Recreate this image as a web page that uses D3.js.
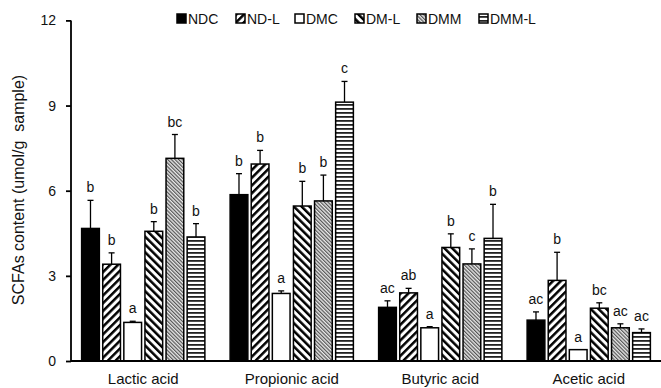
<!DOCTYPE html>
<html><head><meta charset="utf-8">
<script src="https://cdn.jsdelivr.net/npm/d3@7"></script>
<style>body{margin:0;background:#fff;}svg{display:block;font-family:Arial,"Liberation Sans",sans-serif;}</style>
</head><body><svg id="c" width="661" height="388"></svg>
<script>
const categories = ["Lactic acid","Propionic acid","Butyric acid","Acetic acid"];
const series = ["NDC","ND-L","DMC","DM-L","DMM","DMM-L"];
const NDC   = [4.67, 5.86, 1.89, 1.44];
const NDL   = [3.41, 6.94, 2.40, 2.84];
const DMC   = [1.36, 2.38, 1.17, 0.40];
const DML   = [4.57, 5.46, 4.00, 1.86];
const DMM   = [7.14, 5.64, 3.42, 1.17];
const DMML  = [4.37, 9.12, 4.32, 1.00];
const errNDC  = [0.99, 0.74, 0.23, 0.29];
const errNDL  = [0.40, 0.48, 0.16, 0.99];
const errDMC  = [0.04, 0.09, 0.04, 0.0];
const errDML  = [0.34, 0.87, 0.48, 0.19];
const errDMM  = [0.84, 0.91, 0.53, 0.14];
const errDMML = [0.47, 0.73, 1.20, 0.13];
const lblNDC  = ["b","b","ac","ac"];
const lblNDL  = ["b","b","ab","b"];
const lblDMC  = ["a","a","a","a"];
const lblDML  = ["b","b","b","bc"];
const lblDMM  = ["bc","b","c","ac"];
const lblDMML = ["b","c","b","ac"];
const yTicks = [0,3,6,9,12];

const values = [NDC,NDL,DMC,DML,DMM,DMML];
const errs = [errNDC,errNDL,errDMC,errDML,errDMM,errDMML];
const lbls = [lblNDC,lblNDL,lblDMC,lblDML,lblDMM,lblDMML];
const fills = ["#000","url(#pNDL)","#fff","url(#pDML)","url(#pDMM)","url(#pDMML)"];

const svg = d3.select("#c");
const defs = svg.append("defs");
function stripes(id, angle, w, sw, col, bg){
  const p = defs.append("pattern").attr("id",id).attr("patternUnits","userSpaceOnUse")
    .attr("width",w).attr("height",w).attr("patternTransform","rotate("+angle+")");
  p.append("rect").attr("width",w).attr("height",w).attr("fill",bg);
  p.append("rect").attr("x",0).attr("y",0).attr("width",sw).attr("height",w).attr("fill",col);
}
stripes("pNDL", 45, 5.5, 2.5, "#000", "#fff");
stripes("pDML", -45, 5.5, 2.5, "#000", "#fff");
stripes("pDMM", -45, 2.6, 1.2, "#555", "#e8e8e8");
stripes("pDMML", 90, 4, 1.8, "#222", "#fff");

const mLeft = 71, mRight = 665, mTop = 20.4, mBottom = 361;
const y = d3.scaleLinear().domain([0,12]).range([mBottom, mTop]);
const x0 = d3.scaleBand().domain(categories).range([mLeft, mRight]).paddingInner(0).paddingOuter(0);
const x1 = d3.scaleBand().domain(series).range([-65, 65]).padding(0.16);

const g = svg.append("g");
series.forEach((s, si) => {
  categories.forEach((c, ci) => {
    const cx = x0(c) + x0.bandwidth()/2 - 2;
    const bx = cx + x1(s);
    const v = values[si][ci], e = errs[si][ci];
    const mid = bx + x1.bandwidth()/2;
    if (e > 0.02) {
      g.append("line").attr("x1",mid).attr("x2",mid).attr("y1",y(v)).attr("y2",y(v+e)).attr("stroke","#000").attr("stroke-width",1.3);
      g.append("line").attr("x1",mid-3).attr("x2",mid+3).attr("y1",y(v+e)).attr("y2",y(v+e)).attr("stroke","#000").attr("stroke-width",1.3);
    }
    g.append("rect").attr("x",bx).attr("y",y(v)).attr("width",x1.bandwidth()).attr("height",y(0)-y(v))
      .attr("fill",fills[si]).attr("stroke","#000").attr("stroke-width",1.5);
    g.append("text").attr("x",mid).attr("y",y(v+e)-8).attr("text-anchor","middle")
      .attr("font-size",14).attr("fill","#111").text(lbls[si][ci]);
  });
});

// axes
const ya = svg.append("g").attr("transform","translate("+mLeft+",0)")
  .call(d3.axisLeft(y).tickValues(yTicks).tickSize(5).tickPadding(10));
ya.select(".domain").attr("stroke","#000").attr("stroke-width",1.8).attr("d","M0,"+mTop+"V"+mBottom);
ya.selectAll(".tick line").attr("stroke","#000").attr("stroke-width",1.8);
ya.selectAll(".tick text").attr("font-size",14).attr("fill","#111").attr("font-family","Arial,'Liberation Sans',sans-serif");

const xa = svg.append("g").attr("transform","translate(0,"+mBottom+")")
  .call(d3.axisBottom(x0).tickSize(0).tickPadding(12));
xa.select(".domain").attr("stroke","#000").attr("stroke-width",1.8).attr("d","M"+mLeft+",0H661");
xa.selectAll(".tick").attr("transform", d => "translate(" + (x0(d)+x0.bandwidth()/2 - 2) + ",0)");
xa.selectAll(".tick text").attr("font-size",15).attr("fill","#111").attr("font-family","Arial,'Liberation Sans',sans-serif");

svg.append("text").attr("transform","translate(24,"+190+") rotate(-90)").attr("text-anchor","middle")
  .style("white-space","pre").attr("xml:space","preserve")
  .attr("font-size",16).attr("fill","#111").text("SCFAs content (umol/g  sample)");

// legend
const legX = [177, 236, 295, 355, 417, 479];
const leg = svg.append("g");
series.forEach((s, i) => {
  leg.append("rect").attr("x",legX[i]).attr("y",14).attr("width",9).attr("height",9)
    .attr("fill",fills[i]).attr("stroke","#000").attr("stroke-width",1.5);
  leg.append("text").attr("x",legX[i]+11).attr("y",24).attr("font-size",14).attr("fill","#111").text(s);
});
</script></body></html>
